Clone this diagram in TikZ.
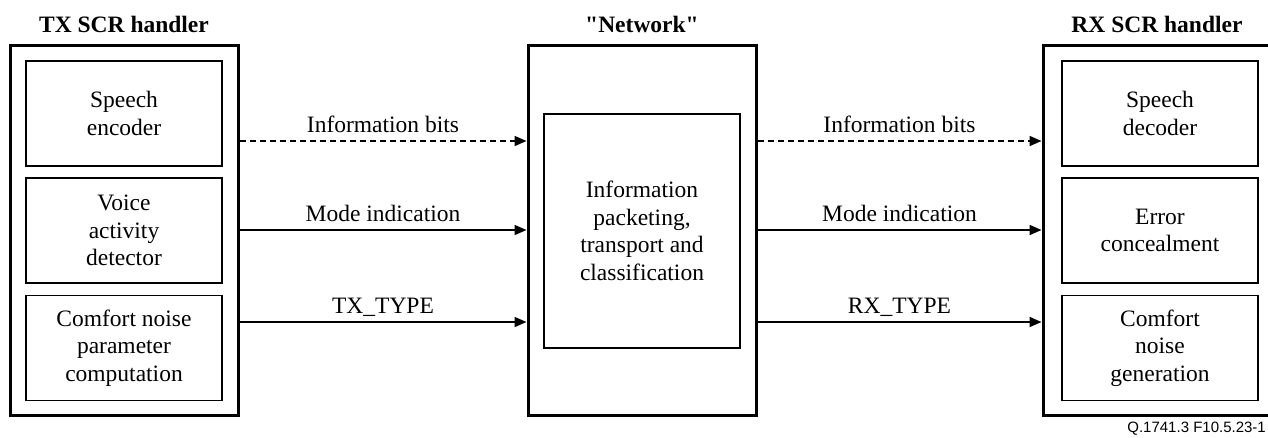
\documentclass[tikz,border=0pt]{standalone}
\usepackage{fontspec}
\setmainfont{Liberation Serif}[Ligatures=TeXOff]
\newfontfamily\figsans{Liberation Sans}
\usetikzlibrary{arrows.meta}
\begin{document}
\begin{tikzpicture}[x=1pt,y=-1pt,
  outerbox/.style={draw,line width=3pt,minimum width=228pt,minimum height=370pt,inner sep=0pt},
  innerbox/.style={draw,line width=1.1pt,minimum width=196pt,minimum height=105pt,inner sep=0pt,align=center,
    font=\fontsize{23.5}{27.5}\selectfont},
  title/.style={font=\fontsize{23.5}{27.5}\selectfont\bfseries},
  lbl/.style={font=\fontsize{23.5}{27.5}\selectfont,anchor=base,yshift=9pt},
  conn/.style={line width=1.7pt,-{Triangle[length=12pt,width=10pt]}},
  dconn/.style={conn,dash pattern=on 6pt off 4pt}]
\useasboundingbox (0,0) rectangle (1268,437);
% outer boxes
\node[outerbox] (tx) at (124,230) {};
\node[outerbox] (net) at (642,230) {};
\node[outerbox] (rx) at (1157,230) {};
% titles
\node[title] (txt) at (124,24) {TX SCR handler};
\node[title] (nett) at (642,24) {"Network"};
\node[title] (rxt) at (1157,24) {RX SCR handler};
% TX inner
\node[innerbox] (enc) at (124,113.5) {Speech\\encoder};
\node[innerbox] (vad) at (124,230.5) {Voice\\activity\\detector};
\node[innerbox] (cnp) at (124,348) {Comfort noise\\parameter\\computation};
% network inner
\node[innerbox,minimum height=234pt] (pkt) at (642,231) {Information\\packeting,\\transport and\\classification};
% RX inner
\node[innerbox] (dec) at (1160,113.5) {Speech\\decoder};
\node[innerbox] (conc) at (1160,230.5) {Error\\concealment};
\node[innerbox] (cng) at (1160,348) {Comfort\\noise\\generation};
% connectors
\coordinate (ya) at (0,141);
\coordinate (yb) at (0,230);
\coordinate (yc) at (0,322);
\draw[dconn] (tx.east |- ya) -- node[lbl] {Information bits} (net.west |- ya);
\draw[conn] (tx.east |- yb) -- node[lbl] {Mode indication} (net.west |- yb);
\draw[conn] (tx.east |- yc) -- node[lbl] {TX\_TYPE} (net.west |- yc);
\draw[dconn] (net.east |- ya) -- node[lbl] {Information bits} (rx.west |- ya);
\draw[conn] (net.east |- yb) -- node[lbl] {Mode indication} (rx.west |- yb);
\draw[conn] (net.east |- yc) -- node[lbl] {RX\_TYPE} (rx.west |- yc);
% figure id
\node[font=\figsans\fontsize{15}{17}\selectfont,anchor=base east,inner sep=0pt] (fid) at (1266,432) {Q.1741.3 F10.5.23-1};
\end{tikzpicture}
\end{document}
